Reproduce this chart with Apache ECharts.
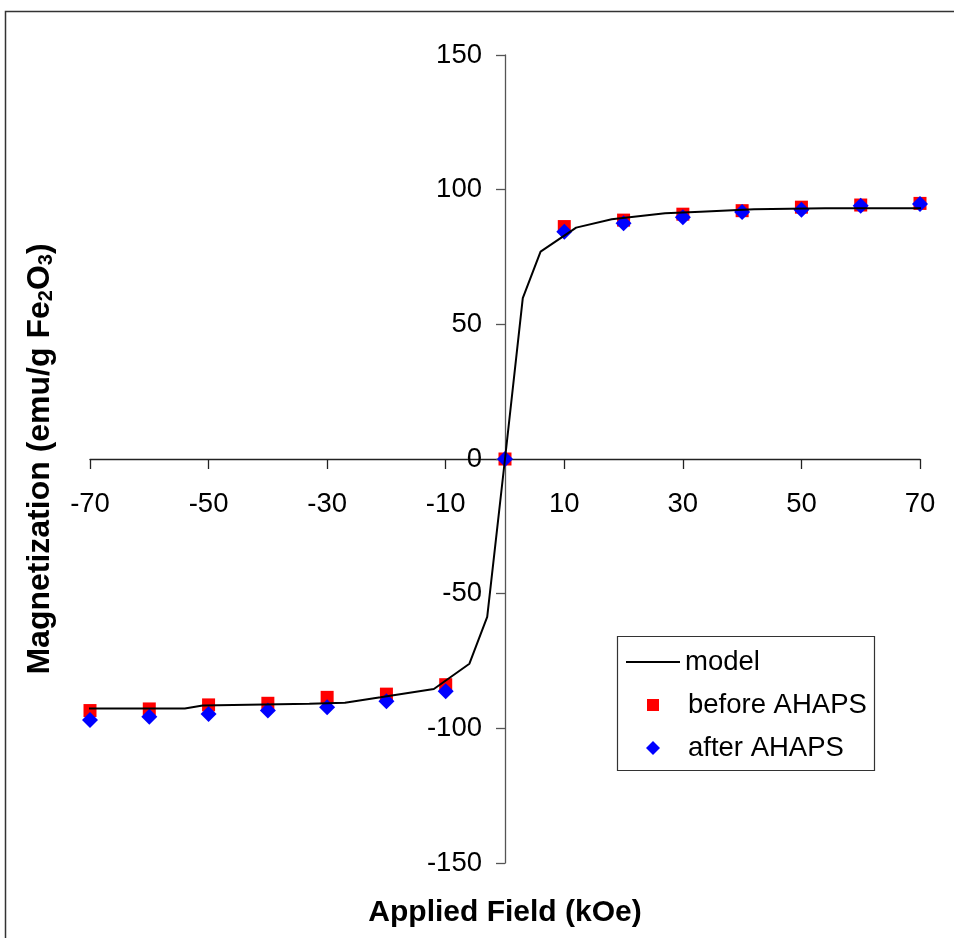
<!DOCTYPE html>
<html>
<head>
<meta charset="utf-8">
<title>Magnetization</title>
<script src="https://cdn.jsdelivr.net/npm/echarts@6/dist/echarts.min.js"></script>
<style>
    html, body { margin: 0; padding: 0; background: #fff; }
    #chart { width: 954px; height: 938px; }
</style>
</head>
<body>
<div id="chart"></div>
<script>
// model curve vertices (kOe, emu/g)
const modelField = [-70.8, -54, -51, -33, -27, -21, -12, -6, -3, 0, 3, 6, 12, 18, 27, 33, 42, 54, 71.3];
const modelMag = [-92.6, -92.6, -91.5, -90.9, -90.5, -88.5, -85.4, -76, -58.6, 0, 59.7, 77, 85.9, 89, 91.2, 91.8, 92.7, 93.1, 93.1];

// measured points
const fieldPoints = [-70, -60, -50, -40, -30, -20, -10, 0, 10, 20, 30, 40, 50, 60, 70];
const beforeMag = [-93.4, -92.8, -91.3, -90.7, -88.5, -87.3, -83.8, 0, 86.3, 88.7, 90.9, 92.2, 93.5, 94.3, 94.9];
const afterMag = [-96.9, -95.7, -94.7, -93.4, -92.2, -89.9, -86.2, 0, 84.4, 87.5, 89.8, 91.7, 92.5, 94.0, 94.7];

const seriesNames = ['model', 'before AHAPS', 'after AHAPS'];

const FONT = 'Liberation Sans, Arial, sans-serif';

// grid box; the axes cross inside it at (0, 0)
const GRID = { left: 90, right: 34, top: 55, bottom: 75 };
const X0 = 505;   // pixel x of field = 0
const Y0 = 459;   // pixel y of magnetization = 0

const pairs = (xs, ys) => xs.map((x, i) => [x, ys[i]]);

const legendText = {
    fontFamily: FONT,
    fontSize: 27.5,
    color: '#000'
};

const chart = echarts.init(document.getElementById('chart'));

chart.setOption({
    backgroundColor: '#fff',
    animation: false,
    textStyle: {
        fontFamily: FONT
    },
    grid: {
        left: GRID.left,
        right: GRID.right,
        top: GRID.top,
        bottom: GRID.bottom,
        containLabel: false,
        outerBoundsMode: 'none'
    },
    graphic: [
        {
            type: 'rect',
            silent: true,
            shape: { x: 5.5, y: 11.5, width: 1000, height: 1000 },
            style: { fill: 'none', stroke: '#333', lineWidth: 1.5 }
        },
        {
            type: 'rect',
            silent: true,
            z: -1,
            shape: { x: 617.5, y: 636.5, width: 257, height: 134 },
            style: { fill: '#fff', stroke: '#333', lineWidth: 1.2 }
        }
    ],
    legend: [
        {
            data: [seriesNames[0]],
            left: 626,
            top: 648,
            padding: 0,
            icon: 'rect',
            itemWidth: 54,
            itemHeight: 2,
            textStyle: legendText
        },
        {
            data: [seriesNames[1]],
            left: 647,
            top: 691,
            padding: 0,
            itemWidth: 12,
            itemHeight: 12,
            textStyle: { ...legendText, padding: [0, 0, 0, 24] }
        },
        {
            data: [seriesNames[2]],
            left: 646,
            top: 734,
            padding: 0,
            itemWidth: 14,
            itemHeight: 14,
            textStyle: { ...legendText, padding: [0, 0, 0, 23] }
        }
    ],
    xAxis: {
        type: 'value',
        min: -70,
        max: 70,
        interval: 20,
        position: 'bottom',
        offset: -(938 - GRID.bottom - Y0),
        name: 'Applied Field (kOe)',
        nameLocation: 'middle',
        nameGap: 439,
        nameTextStyle: {
            fontFamily: FONT,
            fontSize: 30,
            fontWeight: 'bold',
            color: '#000'
        },
        axisLine: { onZero: false, lineStyle: { color: '#222', width: 1.3 } },
        axisTick: { length: 10, lineStyle: { color: '#222', width: 1.3 } },
        axisLabel: {
            margin: 31,
            fontFamily: FONT,
            fontSize: 27.5,
            color: '#000'
        },
        splitLine: { show: false }
    },
    yAxis: {
        type: 'value',
        min: -150,
        max: 150,
        interval: 50,
        position: 'left',
        offset: -(X0 - GRID.left),
        name: 'Magnetization (emu/g Fe{s|2}O{s|3})',
        nameLocation: 'middle',
        nameGap: 449,
        nameTextStyle: {
            fontFamily: FONT,
            fontSize: 32,
            fontWeight: 'bold',
            color: '#000',
            rich: {
                s: {
                    fontFamily: FONT,
                    fontSize: 20,
                    color: '#000',
                    verticalAlign: 'bottom'
                }
            }
        },
        axisLine: { onZero: false, lineStyle: { color: '#555', width: 1.3 } },
        axisTick: { length: 9, lineStyle: { color: '#555', width: 1.3 } },
        axisLabel: {
            margin: 23,
            fontFamily: FONT,
            fontSize: 27.5,
            color: '#000'
        },
        splitLine: { show: false }
    },
    series: [
        {
            name: seriesNames[0],
            type: 'line',
            data: pairs(modelField, modelMag),
            symbol: 'none',
            clip: false,
            lineStyle: { color: '#000', width: 2 },
            itemStyle: { color: '#000' }
        },
        {
            name: seriesNames[1],
            type: 'scatter',
            data: pairs(fieldPoints, beforeMag),
            symbol: 'rect',
            symbolSize: 13,
            itemStyle: { color: '#ff0000', opacity: 1 }
        },
        {
            name: seriesNames[2],
            type: 'scatter',
            data: pairs(fieldPoints, afterMag),
            symbol: 'diamond',
            symbolSize: 16,
            itemStyle: { color: '#0000ff', opacity: 1 }
        }
    ]
});
</script>
</body>
</html>
